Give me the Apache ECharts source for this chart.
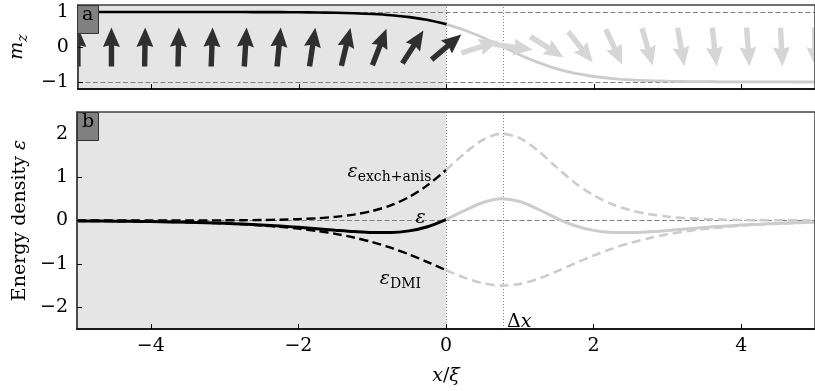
<!DOCTYPE html>
<html>
<head>
<meta charset="utf-8">
<script src="https://cdn.jsdelivr.net/npm/echarts@6/dist/echarts.min.js"></script>
<style>html,body{margin:0;padding:0;background:#fff;}#c{width:815px;height:391px;}</style>
</head>
<body>
<div id="c"></div>
<script>
// ---- data ----
const xs = [-5,-4.75,-4.5,-4.25,-4,-3.75,-3.5,-3.25,-3,-2.75,-2.5,-2.25,-2,-1.75,-1.5,-1.25,-1,-0.75,-0.5,-0.25,0,
            0.25,0.5,0.75,1,1.25,1.5,1.75,2,2.25,2.5,2.75,3,3.25,3.5,3.75,4,4.25,4.5,4.75,5];
const mz = [1.0,1.0,0.9999,0.9999,0.9999,0.9998,0.9996,0.9994,0.9989,0.9982,0.9971,0.9952,0.9922,0.9871,0.9789,0.9654,0.9436,0.9087,0.8538,0.7699,0.647,
            0.4777,0.2636,0.02,-0.226,-0.4462,-0.6231,-0.7531,-0.8426,-0.9015,-0.939,-0.9626,-0.9771,-0.9861,-0.9915,-0.9949,-0.9969,-0.9981,-0.9988,-0.9993,-0.9996];
const epsTotal = [-0.0093,-0.0119,-0.0152,-0.0195,-0.0248,-0.0318,-0.0403,-0.0513,-0.0649,-0.0817,-0.1024,-0.1271,-0.156,-0.1888,-0.223,-0.2552,-0.2774,-0.2777,-0.2389,-0.1427,0.019,
            0.2257,0.414,0.4995,0.4365,0.2593,0.0504,-0.1212,-0.2277,-0.2746,-0.2793,-0.2596,-0.2285,-0.1942,-0.1612,-0.1315,-0.106,-0.0848,-0.0674,-0.0533,-0.042];
const epsExch = [0.0001,0.0001,0.0002,0.0003,0.0006,0.0009,0.0016,0.0026,0.0042,0.007,0.0115,0.019,0.0312,0.0511,0.0836,0.1359,0.2191,0.3486,0.542,0.8146,1.1628,
            1.5435,1.8609,1.9992,1.8977,1.6017,1.2237,0.8657,0.5802,0.3746,0.2364,0.1469,0.0904,0.0553,0.0337,0.0205,0.0125,0.0076,0.0046,0.0028,0.0017];
const epsDMI = [-0.0094,-0.012,-0.0154,-0.0198,-0.0254,-0.0327,-0.0419,-0.0539,-0.0691,-0.0887,-0.1139,-0.1461,-0.1872,-0.2399,-0.3066,-0.3911,-0.4965,-0.6263,-0.7809,-0.9573,-1.1438,
            -1.3178,-1.4469,-1.4997,-1.4612,-1.3424,-1.1733,-0.9869,-0.8079,-0.6492,-0.5157,-0.4065,-0.3189,-0.2495,-0.1949,-0.152,-0.1185,-0.0924,-0.072,-0.0561,-0.0437];
const arrowX = [-5,-4.545,-4.091,-3.636,-3.182,-2.727,-2.273,-1.818,-1.364,-0.909,-0.455,0,
                0.455,0.909,1.364,1.818,2.273,2.727,3.182,3.636,4.091,4.545,5];
const arrowMz = [1.0,1.0,0.9999,0.9997,0.9993,0.9982,0.9955,0.9888,0.9723,0.9327,0.8411,0.647,
                 0.305,-0.138,-0.533,-0.781,-0.906,-0.961,-0.984,-0.9935,-0.9974,-0.9989,-0.9996];
const deltaX = 0.77;
const xTicks = [-4,-2,0,2,4];
const mzTicks = [-1,0,1];
const epsTicks = [-2,-1,0,1,2];

// ---- styling ----
const FONT = 'DejaVu Serif';
const FS = 19;
const SUB = 14;
const BLACK = '#000000';
const GREY = '#cccccc';
const ARROW_DARK = '#2f2f2f';
const ARROW_LIGHT = '#d6d6d6';
const fmt = v => (v < 0 ? '\u2212' + Math.abs(v) : String(v));

function pairs(arr, side) {
  return xs.map((x, i) => [x, arr[i]]).filter(p => side < 0 ? p[0] <= 0 : p[0] >= 0);
}

const refLine = {color: '#808080', width: 1, type: [5, 2.5]};
const dotLine = {color: '#808080', width: 1, type: [1, 2]};

function xAxisCfg(grid, labels) {
  return {
    gridIndex: grid, type: 'value', min: -5, max: 5, z: 6,
    axisLine: {show: true, onZero: false, lineStyle: {color: BLACK, width: 1.6}},
    axisTick: {show: true, inside: true, length: 5, customValues: xTicks, lineStyle: {color: BLACK, width: 1}},
    axisLabel: {show: labels, customValues: xTicks, formatter: fmt, margin: 8, color: BLACK, fontFamily: FONT, fontSize: FS},
    splitLine: {show: false},
    name: labels ? '{i|x}{r|/}{i|\u03be}' : '',
    nameLocation: 'middle', nameGap: 38,
    nameTextStyle: {rich: {i: {fontFamily: FONT, fontStyle: 'italic', fontSize: FS, color: BLACK}, r: {fontFamily: FONT, fontSize: FS, color: BLACK}}}
  };
}
function yAxisCfg(grid, min, max, ticks, name, gap) {
  return {
    gridIndex: grid, type: 'value', min: min, max: max, z: 6,
    axisLine: {show: true, onZero: false, lineStyle: {color: '#404040', width: 1.5}},
    axisTick: {show: true, inside: true, length: 5, customValues: ticks, lineStyle: {color: BLACK, width: 1}},
    axisLabel: {customValues: ticks, formatter: fmt, margin: 9, color: BLACK, fontFamily: FONT, fontSize: FS},
    splitLine: {show: false},
    name: name, nameLocation: 'middle', nameGap: gap, nameRotate: 90,
    nameTextStyle: {color: BLACK, fontFamily: FONT, fontSize: FS, rich: {
      i: {fontFamily: FONT, fontStyle: 'italic', fontSize: FS, color: BLACK, lineHeight: 22, verticalAlign: 'top'},
      r: {fontFamily: FONT, fontSize: FS, color: BLACK, lineHeight: 22, verticalAlign: 'top'},
      s: {fontFamily: FONT, fontStyle: 'italic', fontSize: SUB, color: BLACK, lineHeight: 15, verticalAlign: 'bottom'}
    }}
  };
}

const subRich = {
  e: {fontFamily: FONT, fontStyle: 'italic', fontSize: FS, color: BLACK, lineHeight: 22, verticalAlign: 'top'},
  s: {fontFamily: FONT, fontSize: SUB, color: BLACK, lineHeight: 15, verticalAlign: 'bottom'},
  r: {fontFamily: FONT, fontSize: FS, color: BLACK},
  i: {fontFamily: FONT, fontStyle: 'italic', fontSize: FS, color: BLACK}
};
function textPoint(coord, text, pos) {
  return {coord: coord, symbol: 'circle', symbolSize: 1, itemStyle: {color: 'rgba(0,0,0,0)'},
    label: {show: true, position: pos, distance: 0, formatter: text, rich: subRich, color: BLACK}};
}

const ARROW_SHAPE = [[19.5,0],[0,8.5],[1.6,2.7],[-19.5,2.7],[-19.5,-2.7],[1.6,-2.7],[0,-8.5]];

const option = {
  animation: false,
  backgroundColor: '#ffffff',
  title: [
    {text: 'a', left: 77, top: 5, z: 20, backgroundColor: '#808080', borderColor: '#333333', borderWidth: 1,
     padding: [0, 5, 8, 5], textStyle: {fontFamily: FONT, fontSize: FS, fontWeight: 'normal', color: BLACK, lineHeight: 21}},
    {text: 'b', left: 77, top: 112, z: 20, backgroundColor: '#808080', borderColor: '#333333', borderWidth: 1,
     padding: [0, 5, 8, 5], textStyle: {fontFamily: FONT, fontSize: FS, fontWeight: 'normal', color: BLACK, lineHeight: 21}}
  ],
  grid: [
    {left: 77, top: 5, width: 744, height: 84, show: true, z: 6, backgroundColor: 'transparent', borderColor: '#404040', borderWidth: 1.5},
    {left: 77, top: 112, width: 744, height: 218, show: true, z: 6, backgroundColor: 'transparent', borderColor: '#404040', borderWidth: 1.5}
  ],
  xAxis: [xAxisCfg(0, false), xAxisCfg(1, true)],
  yAxis: [
    yAxisCfg(0, -1.2, 1.2, mzTicks, '{i|m}{s|z}', 44),
    yAxisCfg(1, -2.5, 2.5, epsTicks, '{r|Energy density }{i|\u03b5}', 44)
  ],
  series: [
    // shaded region + reference lines, top panel
    {type: 'line', xAxisIndex: 0, yAxisIndex: 0, data: [[-5, 0]], symbol: 'none', lineStyle: {opacity: 0}, silent: true, z: 1,
     markArea: {silent: true, z: 1, itemStyle: {color: '#e5e5e5'}, data: [[{xAxis: -5}, {xAxis: 0}]]},
     markLine: {silent: true, z: 2, symbol: 'none', label: {show: false},
       data: [{yAxis: 1, lineStyle: refLine}, {yAxis: -1, lineStyle: refLine}, {xAxis: 0, lineStyle: dotLine}, {xAxis: deltaX, lineStyle: dotLine}]}},
    // shaded region + reference lines, bottom panel
    {type: 'line', xAxisIndex: 1, yAxisIndex: 1, data: [[-5, 0]], symbol: 'none', lineStyle: {opacity: 0}, silent: true, z: 1,
     markArea: {silent: true, z: 1, itemStyle: {color: '#e5e5e5'}, data: [[{xAxis: -5}, {xAxis: 0}]]},
     markLine: {silent: true, z: 2, symbol: 'none', label: {show: false},
       data: [{yAxis: 0, lineStyle: refLine}, {xAxis: 0, lineStyle: dotLine}, {xAxis: deltaX, lineStyle: dotLine}]}},
    // m_z curve
    {type: 'line', xAxisIndex: 0, yAxisIndex: 0, data: pairs(mz, 1), smooth: 0.3, symbol: 'none', z: 3, lineStyle: {color: GREY, width: 2.8}},
    {type: 'line', xAxisIndex: 0, yAxisIndex: 0, data: pairs(mz, -1), smooth: 0.3, symbol: 'none', z: 3, lineStyle: {color: BLACK, width: 2.6}},
    // arrows
    {type: 'custom', xAxisIndex: 0, yAxisIndex: 0, clip: true, z: 4, silent: true,
     data: arrowX.map((x, i) => [x, arrowMz[i]]), encode: {x: 0, y: 1},
     renderItem: function (params, api) {
       const x = api.value(0), m = Math.max(-1, Math.min(1, api.value(1)));
       const c = api.coord([x, 0]);
       const th = Math.asin(m);
       const dx = Math.cos(th), dy = -Math.sin(th);
       const pts = ARROW_SHAPE.map(p => [c[0] + p[0] * dx - p[1] * dy, c[1] + p[0] * dy + p[1] * dx]);
       return {type: 'polygon', shape: {points: pts}, style: {fill: x <= 0 ? ARROW_DARK : ARROW_LIGHT}};
     }},
    // energy densities, right (grey) parts
    {type: 'line', xAxisIndex: 1, yAxisIndex: 1, data: pairs(epsExch, 1), smooth: 0.3, symbol: 'none', z: 3, lineStyle: {color: GREY, width: 2.6, type: [9, 5]}},
    {type: 'line', xAxisIndex: 1, yAxisIndex: 1, data: pairs(epsDMI, 1), smooth: 0.3, symbol: 'none', z: 3, lineStyle: {color: GREY, width: 2.6, type: [9, 5]}},
    {type: 'line', xAxisIndex: 1, yAxisIndex: 1, data: pairs(epsTotal, 1), smooth: 0.3, symbol: 'none', z: 3, lineStyle: {color: GREY, width: 3}},
    // left (black) parts
    {type: 'line', xAxisIndex: 1, yAxisIndex: 1, data: pairs(epsExch, -1), smooth: 0.3, symbol: 'none', z: 3, lineStyle: {color: BLACK, width: 2.4, type: [9, 4.5]},
     markPoint: {silent: true, z: 5, data: [textPoint([-0.19, 1.08], '{e|\u03b5}{s|exch+anis}', 'left')]}},
    {type: 'line', xAxisIndex: 1, yAxisIndex: 1, data: pairs(epsDMI, -1), smooth: 0.3, symbol: 'none', z: 3, lineStyle: {color: BLACK, width: 2.4, type: [9, 4.5]},
     markPoint: {silent: true, z: 5, data: [textPoint([-0.33, -1.38], '{e|\u03b5}{s|DMI}', 'left')]}},
    {type: 'line', xAxisIndex: 1, yAxisIndex: 1, data: pairs(epsTotal, -1), smooth: 0.3, symbol: 'none', z: 3, lineStyle: {color: BLACK, width: 3},
     markPoint: {silent: true, z: 5, data: [textPoint([-0.27, 0.05], '{i|\u03b5}', 'left'),
                                             textPoint([deltaX + 0.05, -2.34], '{r|\u0394}{i|x}', 'right')]}}
  ]
};

const chart = echarts.init(document.getElementById('c'), null, {renderer: 'canvas'});
chart.setOption(option);
</script>
</body>
</html>
